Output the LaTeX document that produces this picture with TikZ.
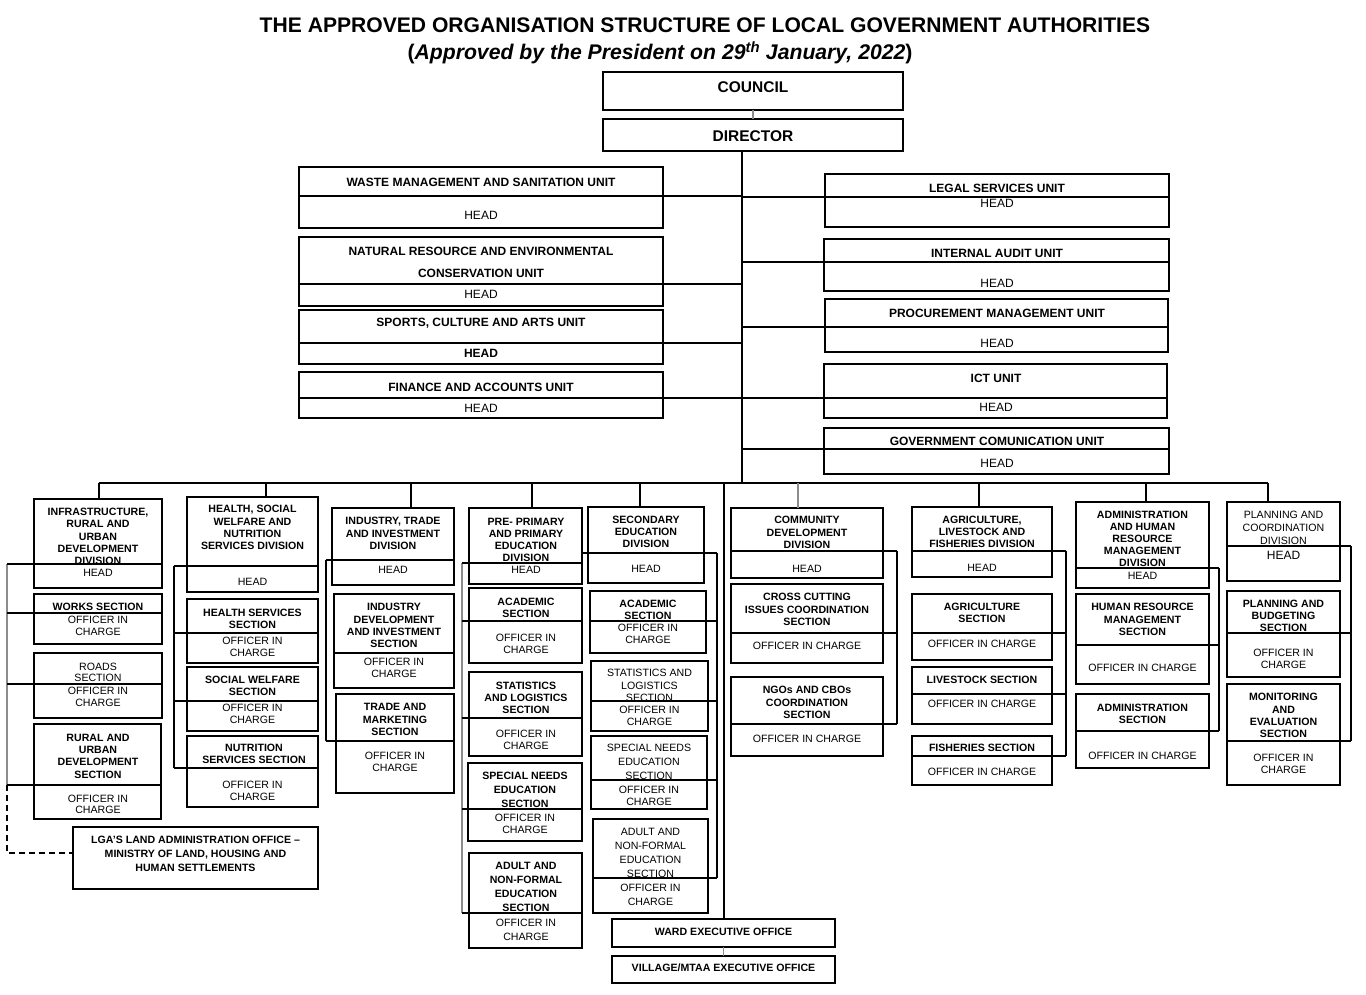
\documentclass[tikz,border=0pt]{standalone}
\usepackage{fontspec}
\setmainfont{Liberation Sans}
\newcounter{tn}
\tikzset{
  bx/.style={draw, line width=1.2pt, inner sep=0pt, outer sep=0pt, rectangle},
  ln/.style={line width=1.2pt, black},
  gl/.style={line width=1.2pt, black!45},
  tb/.style={font=\fontsize{10.6}{12.3}\selectfont\bfseries, align=center, inner sep=0pt},
  tb12/.style={tb, font=\fontsize{10.6}{12}\selectfont\bfseries},
  tb14/.style={tb, font=\fontsize{10.6}{14}\selectfont\bfseries},
  tn/.style={font=\fontsize{10.6}{12.3}\selectfont, align=center, inner sep=0pt},
  tn11/.style={tn, font=\fontsize{10.6}{11.5}\selectfont},
  tn12/.style={tn, font=\fontsize{10.6}{12}\selectfont},
  tn13/.style={tn, font=\fontsize{10.6}{13}\selectfont},
  tn14/.style={tn, font=\fontsize{10.6}{14}\selectfont},
  ub/.style={font=\fontsize{12}{14}\selectfont\bfseries, align=center, inner sep=0pt},
  ub22/.style={ub, font=\fontsize{12}{22}\selectfont\bfseries},
  un/.style={font=\fontsize{12}{14}\selectfont, align=center, inner sep=0pt},
}
% plain box: name x1 y1 x2 y2
\newcommand\pbx[5]{%
  \node[bx, minimum width={(#4)-(#2)}, minimum height={(#5)-(#3)}] (#1) at ({(#2+#4)/2},{(#3+#5)/2}) {};}
% box with divider: name x1 y1 x2 y2 ydiv
\newcommand\ubx[6]{%
  \pbx{#1}{#2}{#3}{#4}{#5}%
  \coordinate (#1-l) at (#2,#6);
  \coordinate (#1-r) at (#4,#6);
  \draw[ln] (#1-l) -- (#1-r);}
% text node: style x y text
\newcommand\tx[4]{\stepcounter{tn}\node[#1] (t\arabic{tn}) at (#2,#3) {#4};}
\begin{document}
\begin{tikzpicture}[x=1pt,y=-1pt]
\fill[white] (0,0) rectangle (1366,994);
\useasboundingbox (0,0) rectangle (1366,994);

% ---------- title ----------
\node[font=\fontsize{21.1}{24}\selectfont\bfseries, inner sep=0pt] (title) at (705,25) {THE APPROVED ORGANISATION STRUCTURE OF LOCAL GOVERNMENT AUTHORITIES};
\node[font=\fontsize{21.2}{24}\selectfont\bfseries, inner sep=0pt] (subtitle) at (660,53) {(\textit{Approved by the President on 29\textsuperscript{th} January, 2022})};

% ---------- council / director ----------
\pbx{council}{603}{72}{903}{110}
\pbx{director}{603}{119}{903}{151}
\node[font=\fontsize{15.5}{18}\selectfont\bfseries, inner sep=0pt] (tcouncil) at (753,87) {COUNCIL};
\node[font=\fontsize{15.5}{18}\selectfont\bfseries, inner sep=0pt] (tdirector) at (753,136) {DIRECTOR};
\draw[gl] (council.south) -- (director.north);

% ---------- units ----------
\ubx{waste}{299}{167}{663}{228}{196}
\ubx{natres}{299}{237}{663}{306}{284}
\ubx{sports}{299}{310}{663}{364}{343}
\ubx{finance}{299}{372}{663}{418}{398}
\ubx{legal}{825}{174}{1169}{227}{197}
\ubx{audit}{824}{239}{1169}{291}{262}
\ubx{procure}{825}{299}{1168}{352}{327}
\ubx{ict}{824}{364}{1167}{418}{398}
\ubx{govcom}{824}{428}{1169}{474}{449}

\coordinate (trunkB) at (742,483);
\draw[ln] (director.south -| trunkB) -- (trunkB);
\foreach \u in {waste,natres,sports,finance}{\draw[ln] (\u-r) -- (\u-r -| trunkB);}
\foreach \u in {legal,audit,procure,ict,govcom}{\draw[ln] (\u-l -| trunkB) -- (\u-l);}

\tx{ub}{481}{182}{WASTE MANAGEMENT AND SANITATION UNIT}
\tx{un}{481}{215}{HEAD}
\tx{ub22}{481}{262}{NATURAL RESOURCE AND ENVIRONMENTAL\\CONSERVATION UNIT}
\tx{un}{481}{294}{HEAD}
\tx{ub}{481}{323}{SPORTS, CULTURE AND ARTS UNIT}
\tx{ub}{481}{353}{HEAD}
\tx{ub}{481}{387}{FINANCE AND ACCOUNTS UNIT}
\tx{un}{481}{408}{HEAD}
\tx{ub}{997}{188}{LEGAL SERVICES UNIT}
\tx{un}{997}{203}{HEAD}
\tx{ub}{997}{253}{INTERNAL AUDIT UNIT}
\tx{un}{997}{283}{HEAD}
\tx{ub}{997}{313}{PROCUREMENT MANAGEMENT UNIT}
\tx{un}{997}{343}{HEAD}
\tx{ub}{996}{378}{ICT UNIT}
\tx{un}{996}{407}{HEAD}
\tx{ub}{997}{441}{GOVERNMENT COMUNICATION UNIT}
\tx{un}{997}{463}{HEAD}

% ---------- bus ----------
\coordinate (busL) at (99,483);
\coordinate (busR) at (1268,483);
\draw[ln] (busL) -- (busR);

% ---------- divisions and sections ----------
\ubx{infra}{34}{499}{162}{588}{564}
\ubx{works}{34}{594}{162}{644}{613}
\ubx{roads}{34}{653}{162}{718}{684}
\ubx{rural}{34}{724}{161}{819}{785}
\pbx{lga}{73}{827}{318}{889}

\ubx{health}{187}{497}{318}{592}{566}
\ubx{hs}{187}{599}{318}{663}{633}
\ubx{sw}{187}{667}{318}{731}{701}
\ubx{nut}{187}{736}{318}{807}{768}

\ubx{ind}{332}{508}{454}{585}{560}
\ubx{inddev}{334}{594}{454}{688}{653}
\ubx{trade}{336}{694}{454}{793}{741}

\ubx{pp}{469}{508}{582}{584}{563}
\ubx{ppac}{469}{588}{582}{663}{621}
\ubx{ppst}{469}{672}{582}{756}{718}
\ubx{ppsn}{468}{763}{582}{841}{809}
\ubx{ppad}{469}{853}{582}{948}{913}

\ubx{sec}{588}{507}{704}{583}{553}
\ubx{secac}{590}{591}{706}{653}{621}
\ubx{secst}{591}{661}{708}{731}{701}
\ubx{secsn}{591}{736}{707}{809}{780}
\ubx{secad}{593}{819}{708}{913}{878}

\ubx{comm}{731}{508}{883}{578}{551}
\ubx{cross}{731}{584}{883}{663}{633}
\ubx{ngo}{731}{677}{883}{756}{724}

\ubx{agr}{912}{507}{1052}{577}{551}
\ubx{agrs}{912}{594}{1052}{660}{633}
\ubx{live}{912}{667}{1052}{724}{694}
\ubx{fish}{912}{736}{1052}{785}{756}

\ubx{adm}{1076}{502}{1209}{588}{568}
\ubx{hr}{1076}{594}{1209}{684}{645}
\ubx{adms}{1076}{694}{1209}{768}{731}

\ubx{pl}{1227}{502}{1340}{581}{546}
\ubx{plb}{1227}{591}{1340}{677}{633}
\ubx{me}{1227}{684}{1340}{785}{741}

\pbx{ward}{612}{919}{835}{947}
\pbx{village}{612}{956}{835}{983}

% ---------- drops from bus ----------
\coordinate (dInfra) at (99,483);
\coordinate (dHealth) at (266,483);
\coordinate (dInd) at (411,483);
\coordinate (dPP) at (532,483);
\coordinate (dSec) at (640,483);
\coordinate (dWard) at (724,483);
\coordinate (dComm) at (798,483);
\coordinate (dAgr) at (979,483);
\coordinate (dAdm) at (1146,483);
\coordinate (dPl) at (1268,483);
\draw[ln] (dInfra) -- (dInfra |- infra.north);
\draw[ln] (dHealth) -- (dHealth |- health.north);
\draw[ln] (dInd) -- (dInd |- ind.north);
\draw[ln] (dPP) -- (dPP |- pp.north);
\draw[ln] (dSec) -- (dSec |- sec.north);
\draw[ln] (dWard) -- (dWard |- ward.north);
\draw[gl] (dComm) -- (dComm |- comm.north);
\draw[ln] (dAgr) -- (dAgr |- agr.north);
\draw[ln] (dAdm) -- (dAdm |- adm.north);
\draw[ln] (dPl) -- (dPl |- pl.north);
\draw[gl] (ward.south) -- (village.north);

% ---------- side lines ----------
\coordinate (vIT) at (7,564);
\coordinate (vIB) at (7,785);
\coordinate (vID) at (7,853);
\draw[gl] (vIT) -- (vIB);
\draw[line width=1.2pt, dash pattern=on 6pt off 4pt] (vIB) -- (vID) -- (vID -| lga.west);
\foreach \u in {infra,works,roads,rural}{\draw[ln] (\u-l -| vIT) -- (\u-l);}

\coordinate (vHT) at (174,566);
\coordinate (vHB) at (174,768);
\draw[ln] (vHT) -- (vHB);
\foreach \u in {health,hs,sw,nut}{\draw[ln] (\u-l -| vHT) -- (\u-l);}

\coordinate (vNT) at (326,560);
\coordinate (vNB) at (326,741);
\draw[ln] (vNT) -- (vNB);
\foreach \u in {ind,trade}{\draw[ln] (\u-l -| vNT) -- (\u-l);}

\coordinate (vPT) at (462,563);
\coordinate (vPB) at (462,913);
\draw[gl] (vPT) -- (vPB);
\foreach \u in {pp,ppac,ppst,ppsn,ppad}{\draw[ln] (\u-l -| vPT) -- (\u-l);}

\coordinate (vST) at (717,553);
\coordinate (vSB) at (717,878);
\draw[ln] (vST) -- (vSB);
\foreach \u in {sec,secac,secst,secsn,secad}{\draw[ln] (\u-r) -- (\u-r -| vST);}
\draw[ln] (pp.east |- sec-l) -- (sec-l);

\coordinate (vCT) at (897,551);
\coordinate (vCB) at (897,724);
\draw[ln] (vCT) -- (vCB);
\foreach \u in {comm,cross,ngo}{\draw[ln] (\u-r) -- (\u-r -| vCT);}

\coordinate (vAT) at (1066,551);
\coordinate (vAB) at (1066,756);
\draw[ln] (vAT) -- (vAB);
\foreach \u in {agr,agrs,live,fish}{\draw[ln] (\u-r) -- (\u-r -| vAT);}

\coordinate (vDT) at (1219,568);
\coordinate (vDB) at (1219,731);
\draw[ln] (vDT) -- (vDB);
\foreach \u in {adm,hr,adms}{\draw[ln] (\u-r) -- (\u-r -| vDT);}

\coordinate (vLT) at (1351,546);
\coordinate (vLB) at (1351,741);
\draw[ln] (vLT) -- (vLB);
\foreach \u in {pl,plb,me}{\draw[ln] (\u-r) -- (\u-r -| vLT);}

% ---------- texts ----------
\tx{tb}{98}{536.5}{INFRASTRUCTURE,\\RURAL AND\\URBAN\\DEVELOPMENT\\DIVISION}
\tx{tn}{98}{573}{HEAD}
\tx{tb}{98}{607}{WORKS SECTION}
\tx{tn}{98}{625.5}{OFFICER IN\\CHARGE}
\tx{tn11}{98}{672.5}{ROADS\\SECTION}
\tx{tn}{98}{697}{OFFICER IN\\CHARGE}
\tx{tb}{98}{756}{RURAL AND\\URBAN\\DEVELOPMENT\\SECTION}
\tx{tn11}{98}{804.5}{OFFICER IN\\CHARGE}
\tx{tb14}{195.5}{854}{LGA'S LAND ADMINISTRATION OFFICE –\\MINISTRY OF LAND, HOUSING AND\\HUMAN SETTLEMENTS}

\tx{tb}{252.5}{527.5}{HEALTH, SOCIAL\\WELFARE AND\\NUTRITION\\SERVICES DIVISION}
\tx{tn}{252.5}{582}{HEAD}
\tx{tb}{252.5}{619}{HEALTH SERVICES\\SECTION}
\tx{tn}{252.5}{647}{OFFICER IN\\CHARGE}
\tx{tb}{252.5}{686}{SOCIAL WELFARE\\SECTION}
\tx{tn}{252.5}{714}{OFFICER IN\\CHARGE}
\tx{tb}{254}{754}{NUTRITION\\SERVICES SECTION}
\tx{tn}{252.5}{790.5}{OFFICER IN\\CHARGE}

\tx{tb}{393}{533.5}{INDUSTRY, TRADE\\AND INVESTMENT\\DIVISION}
\tx{tn}{393}{570}{HEAD}
\tx{tb}{394}{625.5}{INDUSTRY\\DEVELOPMENT\\AND INVESTMENT\\SECTION}
\tx{tn}{394}{668}{OFFICER IN\\CHARGE}
\tx{tb}{395}{719.5}{TRADE AND\\MARKETING\\SECTION}
\tx{tn}{395}{762}{OFFICER IN\\CHARGE}

\tx{tb12}{526}{540}{PRE- PRIMARY\\AND PRIMARY\\EDUCATION\\DIVISION}
\tx{tn}{526}{570}{HEAD}
\tx{tb}{526}{607.5}{ACADEMIC\\SECTION}
\tx{tn12}{526}{644}{OFFICER IN\\CHARGE}
\tx{tb12}{526}{698}{STATISTICS\\AND LOGISTICS\\SECTION}
\tx{tn12}{526}{740}{OFFICER IN\\CHARGE}
\tx{tb14}{525}{790}{SPECIAL NEEDS\\EDUCATION\\SECTION}
\tx{tn12}{525}{824}{OFFICER IN\\CHARGE}
\tx{tb14}{526}{887}{ADULT AND\\NON-FORMAL\\EDUCATION\\SECTION}
\tx{tn14}{526}{930}{OFFICER IN\\CHARGE}

\tx{tb12}{646}{532}{SECONDARY\\EDUCATION\\DIVISION}
\tx{tn}{646}{569}{HEAD}
\tx{tb12}{648}{610}{ACADEMIC\\SECTION}
\tx{tn12}{648}{634}{OFFICER IN\\CHARGE}
\tx{tn}{649.5}{685.5}{STATISTICS AND\\LOGISTICS\\SECTION}
\tx{tn12}{649.5}{716}{OFFICER IN\\CHARGE}
\tx{tn14}{649}{762}{SPECIAL NEEDS\\EDUCATION\\SECTION}
\tx{tn12}{649}{796}{OFFICER IN\\CHARGE}
\tx{tn14}{650.5}{853}{ADULT AND\\NON-FORMAL\\EDUCATION\\SECTION}
\tx{tn14}{650.5}{895}{OFFICER IN\\CHARGE}

\tx{tb}{807}{532.5}{COMMUNITY\\DEVELOPMENT\\DIVISION}
\tx{tn}{807}{569}{HEAD}
\tx{tb}{807}{609.5}{CROSS CUTTING\\ISSUES COORDINATION\\SECTION}
\tx{tn}{807}{646}{OFFICER IN CHARGE}
\tx{tb}{807}{702.5}{NGOs AND CBOs\\COORDINATION\\SECTION}
\tx{tn}{807}{739}{OFFICER IN CHARGE}

\tx{tb12}{982}{532}{AGRICULTURE,\\LIVESTOCK AND\\FISHERIES DIVISION}
\tx{tn}{982}{568}{HEAD}
\tx{tb12}{982}{613}{AGRICULTURE\\SECTION}
\tx{tn}{982}{644}{OFFICER IN CHARGE}
\tx{tb}{982}{680}{LIVESTOCK SECTION}
\tx{tn}{982}{704}{OFFICER IN CHARGE}
\tx{tb}{982}{748}{FISHERIES SECTION}
\tx{tn}{982}{772}{OFFICER IN CHARGE}

\tx{tb12}{1142.5}{539}{ADMINISTRATION\\AND HUMAN\\RESOURCE\\MANAGEMENT\\DIVISION}
\tx{tn}{1142.5}{576}{HEAD}
\tx{tb}{1142.5}{619.5}{HUMAN RESOURCE\\MANAGEMENT\\SECTION}
\tx{tn}{1142.5}{668}{OFFICER IN CHARGE}
\tx{tb}{1142.5}{713.5}{ADMINISTRATION\\SECTION}
\tx{tn}{1142.5}{756}{OFFICER IN CHARGE}

\tx{tn13}{1283.5}{528}{PLANNING AND\\COORDINATION\\DIVISION}
\tx{un}{1283.5}{555}{HEAD}
\tx{tb12}{1283.5}{616}{PLANNING AND\\BUDGETING\\SECTION}
\tx{tn}{1283.5}{658.5}{OFFICER IN\\CHARGE}
\tx{tb}{1283.5}{715.5}{MONITORING\\AND\\EVALUATION\\SECTION}
\tx{tn}{1283.5}{764}{OFFICER IN\\CHARGE}

\tx{tb}{723.5}{932}{WARD EXECUTIVE OFFICE}
\tx{tb}{723.5}{968}{VILLAGE/MTAA EXECUTIVE OFFICE}
\end{tikzpicture}
\end{document}
